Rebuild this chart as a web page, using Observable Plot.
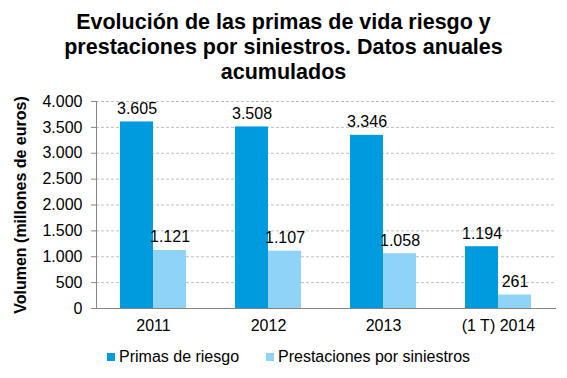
<!DOCTYPE html>
<html>
<head>
<meta charset="utf-8">
<script src="https://cdn.jsdelivr.net/npm/d3@7"></script>
<script src="https://cdn.jsdelivr.net/npm/@observablehq/plot@0.6"></script>
<style>
  body { margin: 0; background: #fff; font-family: Arial, "Liberation Sans", sans-serif; }
  #wrap { width: 567px; height: 378px; position: relative; overflow: hidden; }
  #title { position: absolute; top: 10px; left: 0; width: 567px; text-align: center; font-weight: bold; font-size: 21.5px; line-height: 25px; color: #000; }
  #chart { position: absolute; top: 85px; left: 0; }
  #legend { position: absolute; top: 348px; left: 0; width: 567px; font-size: 16px; color: #000; }
  .li { position: absolute; display: flex; align-items: center; }
  .sw { width: 8px; height: 8px; margin-right: 4px; }
  #chart text { font-family: Arial, "Liberation Sans", sans-serif; }
</style>
</head>
<body>
<div id="wrap">
  <div id="title">Evolución de las primas de vida riesgo y<br>prestaciones por siniestros. Datos anuales<br>acumulados</div>
  <div id="chart"></div>
  <div id="legend"></div>
</div>
<script>
const categories = ["2011", "2012", "2013", "(1 T) 2014"];
const series = ["Primas de riesgo", "Prestaciones por siniestros"];
const primas = [3605, 3508, 3346, 1194];
const prestaciones = [1121, 1107, 1058, 261];
const yTicks = [0, 500, 1000, 1500, 2000, 2500, 3000, 3500, 4000];
const colors = ["#009ADE", "#8FD4F8"];

const data = [];
categories.forEach((c, i) => {
  data.push({cat: c, serie: series[0], value: primas[i]});
  data.push({cat: c, serie: series[1], value: prestaciones[i]});
});

const loc = d3.formatLocale({decimal: ",", thousands: ".", grouping: [3], currency: ["", "€"]});
const fmt = loc.format(",d");

const half = 33;
const axisLine = (index, scales, values, dims) => {
  const g = d3.create("svg:g");
  g.append("line")
    .attr("x1", dims.marginLeft + 0.5).attr("x2", dims.marginLeft + 0.5)
    .attr("y1", dims.marginTop).attr("y2", dims.height - dims.marginBottom)
    .attr("stroke", "#868686");
  return g.node();
};

const chart = Plot.plot({
  width: 567,
  height: 255,
  marginLeft: 96,
  marginRight: 11,
  marginTop: 16,
  marginBottom: 32,
  style: {fontSize: "16px", color: "#000", background: "transparent"},
  x: {domain: categories, paddingInner: 0.426, paddingOuter: 0.213, align: 0.5, label: null},
  y: {domain: [0, 4000], label: null},
  color: {domain: series, range: colors},
  marks: [
    Plot.gridY(yTicks.filter(d => d > 0), {stroke: "#bfbfbf", strokeOpacity: 1, strokeDasharray: "3,2"}),
    Plot.barY(data.filter(d => d.serie === series[0]), {x: "cat", y: "value", fill: colors[0], insetRight: half}),
    Plot.barY(data.filter(d => d.serie === series[1]), {x: "cat", y: "value", fill: colors[1], insetLeft: half}),
    Plot.text(data.filter(d => d.serie === series[0]), {x: "cat", y: "value", text: d => fmt(d.value), dx: -half / 2, dy: -8, lineAnchor: "bottom", fill: "#000", fontSize: 16}),
    Plot.text(data.filter(d => d.serie === series[1]), {x: "cat", y: "value", text: d => fmt(d.value), dx: half / 2, dy: -8, lineAnchor: "bottom", fill: "#000", fontSize: 16}),
    Plot.ruleY([0], {stroke: "#868686"}),
    axisLine,
    Plot.axisY({ticks: yTicks, tickFormat: fmt, tickSize: 5, tickPadding: 9, stroke: "#868686", fill: "#000", fontSize: 16,
      label: "Volumen (millones de euros)", labelAnchor: "center", labelOffset: 82, labelArrow: "none"}),
    Plot.axisX({tickSize: 0, tickPadding: 11, fill: "#000", label: null, fontSize: 16})
  ]
});
document.getElementById("chart").appendChild(chart);
chart.querySelectorAll('[aria-label="y-axis label"] text, g[aria-label="y-axis label"]').forEach(el => el.setAttribute("font-weight", "bold"));

const legend = document.getElementById("legend");
const lx = [107, 266];
series.forEach((s, i) => {
  const d = document.createElement("div");
  d.className = "li";
  d.style.left = lx[i] + "px";
  d.innerHTML = `<span class="sw" style="background:${colors[i]}"></span><span>${s}</span>`;
  legend.appendChild(d);
});
</script>
</body>
</html>
